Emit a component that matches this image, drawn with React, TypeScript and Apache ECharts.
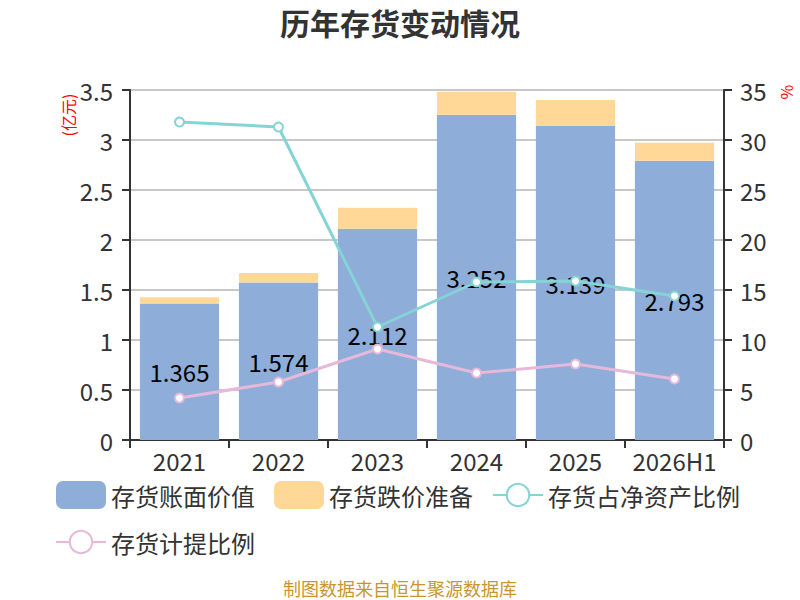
import React, { useEffect, useRef } from "react";
import * as echarts from "echarts";

const categories = ["2021", "2022", "2023", "2024", "2025", "2026H1"];
const bookValue = [1.365, 1.574, 2.112, 3.252, 3.139, 2.793];
const impairment = [0.062, 0.096, 0.21, 0.23, 0.26, 0.18];
const netAssetRatio = [31.8, 31.3, 11.3, 15.8, 15.9, 14.4];
const provisionRatio = [4.2, 5.8, 9.1, 6.7, 7.6, 6.1];

const FONT = "'Noto Sans CJK SC', 'Noto Sans', sans-serif";

export default function App() {
  const ref = useRef<HTMLDivElement>(null);
  useEffect(() => {
    if (!ref.current) return;
    const chart = echarts.init(ref.current, undefined, { renderer: "svg" });
    chart.setOption({
      animation: false,
      textStyle: { fontFamily: FONT },
      title: {
        text: "历年存货变动情况",
        left: "center",
        top: 2,
        textStyle: { fontSize: 30, fontWeight: "bold", color: "#333", fontFamily: FONT },
      },
      legend: {
        left: 50,
        top: 476,
        width: 730,
        itemWidth: 50,
        itemHeight: 28,
        itemGap: 19,
        textStyle: { fontSize: 24, lineHeight: 26, color: "#333", fontFamily: FONT },
        data: [
          { name: "存货账面价值" },
          { name: "存货跌价准备" },
          { name: "存货占净资产比例" },
          { name: "存货计提比例" },
        ],
      },
      graphic: [
        {
          type: "text",
          x: 68,
          y: 115,
          rotation: Math.PI / 2,
          style: {
            text: "(亿元)",
            fill: "#ff0000",
            fontSize: 16,
            fontFamily: FONT,
            align: "center",
            verticalAlign: "middle",
          },
        },
        {
          type: "text",
          x: 786,
          y: 92,
          rotation: Math.PI / 2,
          style: {
            text: "%",
            fill: "#ff0000",
            fontSize: 16,
            fontFamily: FONT,
            align: "center",
            verticalAlign: "middle",
          },
        },
        {
          type: "text",
          x: 400,
          y: 588,
          style: {
            text: "制图数据来自恒生聚源数据库",
            fill: "#c8962e",
            fontSize: 18,
            fontFamily: FONT,
            align: "center",
            verticalAlign: "middle",
          },
        },
      ],
      grid: { left: 130, right: 76, top: 90, bottom: 160 },
      xAxis: {
        type: "category",
        data: categories,
        axisLine: { lineStyle: { color: "#333", width: 2 } },
        axisTick: { show: true, length: 8, lineStyle: { color: "#333", width: 2 } },
        axisLabel: { fontSize: 24, color: "#333", margin: 8, interval: 0 },
      },
      yAxis: [
        {
          type: "value",
          min: 0,
          max: 3.5,
          interval: 0.5,
          axisLine: { show: true, lineStyle: { color: "#333", width: 2 } },
          axisTick: { show: true, length: 8, lineStyle: { color: "#333", width: 2 } },
          axisLabel: { fontSize: 24, color: "#333", margin: 17 },
          splitLine: { lineStyle: { color: "#c8c8c8", width: 2 } },
        },
        {
          type: "value",
          min: 0,
          max: 35,
          interval: 5,
          axisLine: { show: true, lineStyle: { color: "#333", width: 2 } },
          axisTick: { show: true, length: 8, lineStyle: { color: "#333", width: 2 } },
          axisLabel: { fontSize: 24, color: "#333", margin: 16 },
          splitLine: { show: false },
        },
      ],
      series: [
        {
          name: "存货账面价值",
          type: "bar",
          stack: "inv",
          barWidth: "80%",
          data: bookValue,
          itemStyle: { color: "#8eadd9" },
          label: {
            show: true,
            position: "inside",
            color: "#000",
            fontSize: 24,
            fontFamily: FONT,
          },
        },
        {
          name: "存货跌价准备",
          type: "bar",
          stack: "inv",
          data: impairment,
          itemStyle: { color: "#ffd898" },
        },
        {
          name: "存货占净资产比例",
          type: "line",
          yAxisIndex: 1,
          data: netAssetRatio,
          symbol: "emptyCircle",
          symbolSize: 9,
          lineStyle: { color: "#86d3d6", width: 3 },
          itemStyle: { color: "#86d3d6", borderWidth: 2 },
        },
        {
          name: "存货计提比例",
          type: "line",
          yAxisIndex: 1,
          data: provisionRatio,
          symbol: "emptyCircle",
          symbolSize: 9,
          lineStyle: { color: "#e6b8d9", width: 3 },
          itemStyle: { color: "#e6b8d9", borderWidth: 2 },
        },
      ],
    });
    return () => chart.dispose();
  }, []);
  return (
    <div
      ref={ref}
      style={{ position: "fixed", left: 0, top: 0, width: 800, height: 600, background: "#fff" }}
    />
  );
}
